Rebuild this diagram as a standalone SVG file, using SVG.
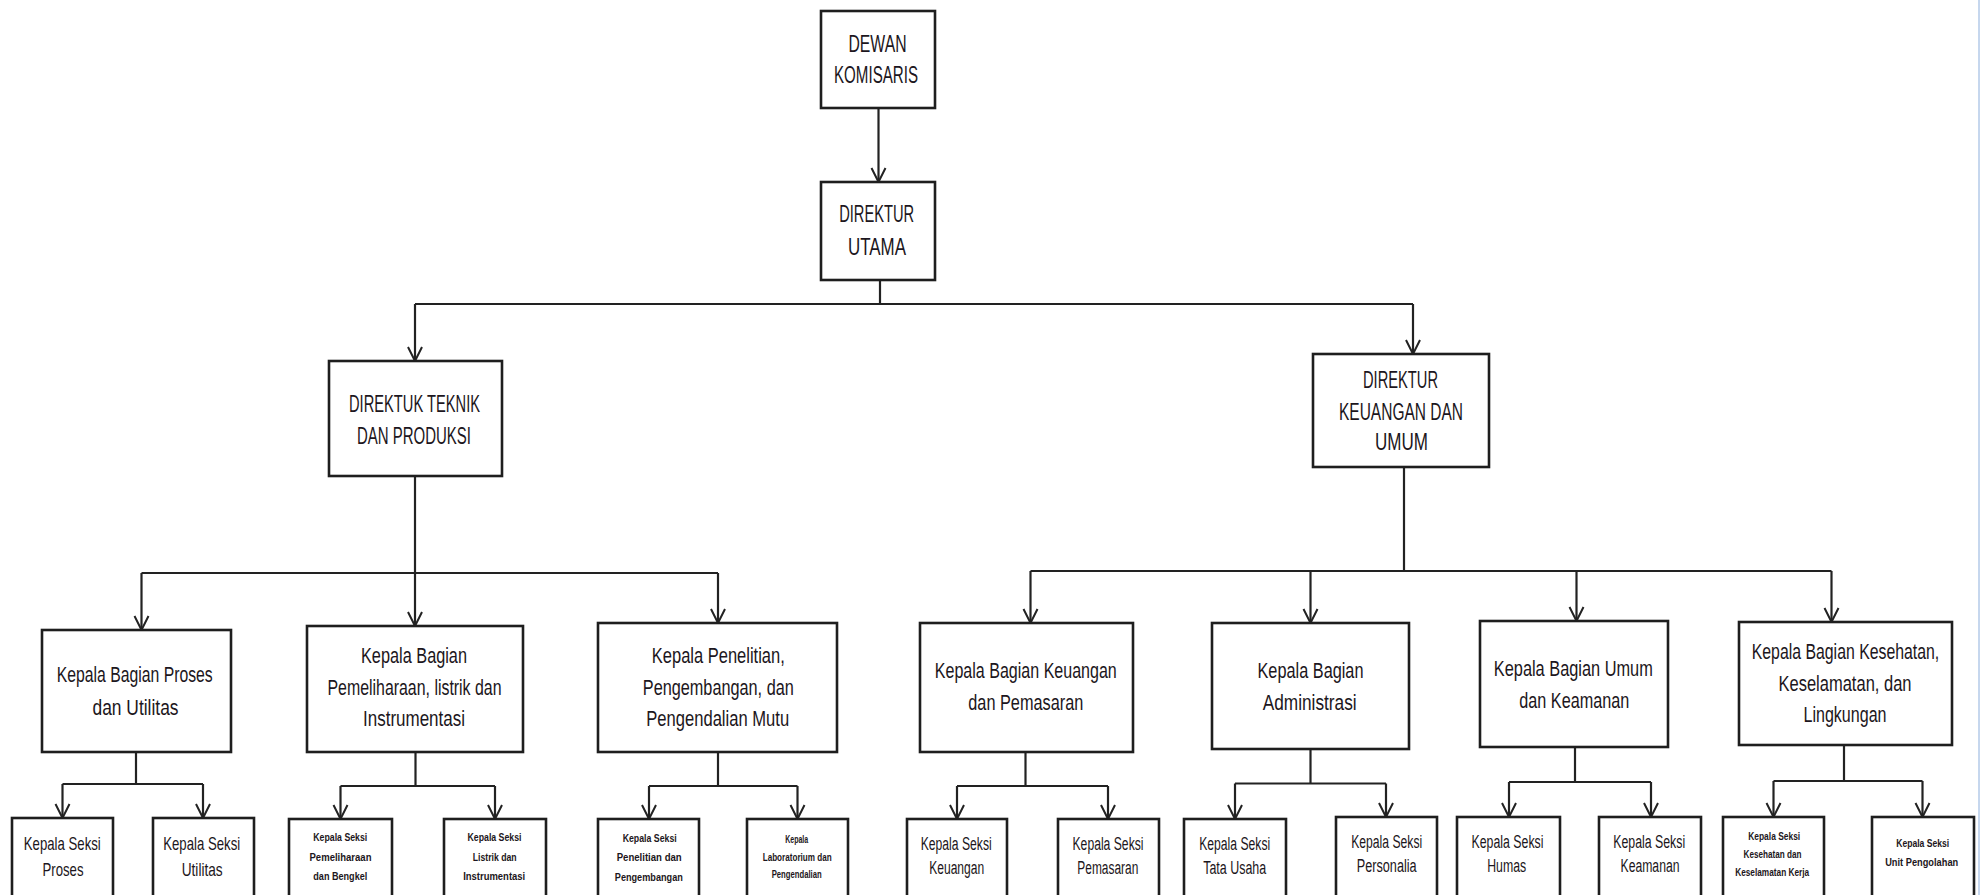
<svg xmlns="http://www.w3.org/2000/svg" width="1988" height="895" viewBox="0 0 1988 895">
<style>
.box{fill:#fff;stroke:#1e1e1e;stroke-width:2.6}
.ln{fill:none;stroke:#222;stroke-width:2.2}
.arr{marker-end:url(#ah)}
text{font-family:"Liberation Sans",Arial,sans-serif;fill:#1c1620;text-anchor:middle}
.f1{font-size:23px}
.f2{font-size:22px}
.f3{font-size:19px}
.f4{font-size:18px}
.f5{font-size:10px;font-weight:bold}
</style>
<defs>
<marker id="ah" markerUnits="userSpaceOnUse" markerWidth="18" markerHeight="18" viewBox="0 0 18 18" refX="16" refY="9" orient="auto">
<path d="M2,2 L16,9 L2,16" fill="none" stroke="#222" stroke-width="2"/>
</marker>
</defs>
<rect width="1988" height="895" fill="#fff"/>
<line x1="1979" y1="0" x2="1979" y2="895" stroke="#c6d7ee" stroke-width="2"/>

<g id="connectors">
<line class="ln arr" x1="878.5" y1="108" x2="878.5" y2="182"/>
<polyline class="ln" points="880,280 880,304"/>
<line class="ln" x1="415" y1="304" x2="1413" y2="304"/>
<line class="ln arr" x1="415" y1="304" x2="415" y2="361"/>
<line class="ln arr" x1="1413" y1="304" x2="1413" y2="354"/>

<line class="ln" x1="415" y1="476" x2="415" y2="573"/>
<line class="ln" x1="141.5" y1="573" x2="718" y2="573"/>
<line class="ln arr" x1="141.5" y1="573" x2="141.5" y2="630"/>
<line class="ln arr" x1="415" y1="573" x2="415" y2="626"/>
<line class="ln arr" x1="718" y1="573" x2="718" y2="623"/>

<line class="ln" x1="1404" y1="467" x2="1404" y2="571"/>
<line class="ln" x1="1030.5" y1="571" x2="1831.5" y2="571"/>
<line class="ln arr" x1="1030.5" y1="571" x2="1030.5" y2="623"/>
<line class="ln arr" x1="1310.5" y1="571" x2="1310.5" y2="623"/>
<line class="ln arr" x1="1576.5" y1="571" x2="1576.5" y2="621"/>
<line class="ln arr" x1="1831.5" y1="571" x2="1831.5" y2="622"/>

<line class="ln" x1="136" y1="752" x2="136" y2="784"/>
<line class="ln" x1="62.5" y1="784" x2="203" y2="784"/>
<line class="ln arr" x1="62.5" y1="784" x2="62.5" y2="818"/>
<line class="ln arr" x1="203" y1="784" x2="203" y2="818"/>

<line class="ln" x1="415.5" y1="752" x2="415.5" y2="786"/>
<line class="ln" x1="340.5" y1="786" x2="495" y2="786"/>
<line class="ln arr" x1="340.5" y1="786" x2="340.5" y2="819"/>
<line class="ln arr" x1="495" y1="786" x2="495" y2="819"/>

<line class="ln" x1="718" y1="752" x2="718" y2="786"/>
<line class="ln" x1="649" y1="786" x2="797.5" y2="786"/>
<line class="ln arr" x1="649" y1="786" x2="649" y2="819"/>
<line class="ln arr" x1="797.5" y1="786" x2="797.5" y2="819"/>

<line class="ln" x1="1025.5" y1="752" x2="1025.5" y2="786"/>
<line class="ln" x1="957" y1="786" x2="1108" y2="786"/>
<line class="ln arr" x1="957" y1="786" x2="957" y2="819"/>
<line class="ln arr" x1="1108" y1="786" x2="1108" y2="819"/>

<line class="ln" x1="1310.5" y1="749" x2="1310.5" y2="783.5"/>
<line class="ln" x1="1235" y1="783.5" x2="1386" y2="783.5"/>
<line class="ln arr" x1="1235" y1="783.5" x2="1235" y2="819"/>
<line class="ln arr" x1="1386" y1="783.5" x2="1386" y2="817"/>

<line class="ln" x1="1575" y1="747" x2="1575" y2="782"/>
<line class="ln" x1="1509" y1="782" x2="1651" y2="782"/>
<line class="ln arr" x1="1509" y1="782" x2="1509" y2="817"/>
<line class="ln arr" x1="1651" y1="782" x2="1651" y2="817"/>

<line class="ln" x1="1844" y1="745" x2="1844" y2="781"/>
<line class="ln" x1="1773.5" y1="781" x2="1922.5" y2="781"/>
<line class="ln arr" x1="1773.5" y1="781" x2="1773.5" y2="817"/>
<line class="ln arr" x1="1922.5" y1="781" x2="1922.5" y2="817"/>
</g>

<g id="dewan-komisaris">
<rect class="box" x="821" y="11" width="114" height="97"/>
<text class="f1" x="877.5" y="52" textLength="58" lengthAdjust="spacingAndGlyphs">DEWAN</text>
<text class="f1" x="876" y="83" textLength="84" lengthAdjust="spacingAndGlyphs">KOMISARIS</text>
</g>
<g id="direktur-utama">
<rect class="box" x="821" y="182" width="114" height="98"/>
<text class="f1" x="876.7" y="222" textLength="75" lengthAdjust="spacingAndGlyphs">DIREKTUR</text>
<text class="f1" x="877" y="255" textLength="58" lengthAdjust="spacingAndGlyphs">UTAMA</text>
</g>
<g id="direktur-teknik">
<rect class="box" x="329" y="361" width="173" height="115"/>
<text class="f1" x="414.5" y="412" textLength="131" lengthAdjust="spacingAndGlyphs">DIREKTUK TEKNIK</text>
<text class="f1" x="414" y="444" textLength="114" lengthAdjust="spacingAndGlyphs">DAN PRODUKSI</text>
</g>
<g id="direktur-keuangan">
<rect class="box" x="1313" y="354" width="176" height="113"/>
<text class="f1" x="1400.5" y="388" textLength="75" lengthAdjust="spacingAndGlyphs">DIREKTUR</text>
<text class="f1" x="1401" y="420" textLength="124" lengthAdjust="spacingAndGlyphs">KEUANGAN DAN</text>
<text class="f1" x="1401.5" y="450" textLength="53" lengthAdjust="spacingAndGlyphs">UMUM</text>
</g>

<g id="kb-proses">
<rect class="box" x="42" y="630" width="189" height="122"/>
<text class="f2" x="134.7" y="682" textLength="156" lengthAdjust="spacingAndGlyphs">Kepala Bagian Proses</text>
<text class="f2" x="135.5" y="715" textLength="86" lengthAdjust="spacingAndGlyphs">dan Utilitas</text>
</g>
<g id="kb-pemeliharaan">
<rect class="box" x="307" y="626" width="216" height="126"/>
<text class="f2" x="414" y="663" textLength="106" lengthAdjust="spacingAndGlyphs">Kepala Bagian</text>
<text class="f2" x="414.5" y="695" textLength="174" lengthAdjust="spacingAndGlyphs">Pemeliharaan, listrik dan</text>
<text class="f2" x="414" y="726" textLength="102" lengthAdjust="spacingAndGlyphs">Instrumentasi</text>
</g>
<g id="kb-penelitian">
<rect class="box" x="598" y="623" width="239" height="129"/>
<text class="f2" x="718.3" y="663" textLength="133" lengthAdjust="spacingAndGlyphs">Kepala Penelitian,</text>
<text class="f2" x="718.3" y="695" textLength="151" lengthAdjust="spacingAndGlyphs">Pengembangan, dan</text>
<text class="f2" x="717.7" y="726" textLength="143" lengthAdjust="spacingAndGlyphs">Pengendalian Mutu</text>
</g>
<g id="kb-keuangan">
<rect class="box" x="920" y="623" width="213" height="129"/>
<text class="f2" x="1025.8" y="678" textLength="182" lengthAdjust="spacingAndGlyphs">Kepala Bagian Keuangan</text>
<text class="f2" x="1025.8" y="710" textLength="115" lengthAdjust="spacingAndGlyphs">dan Pemasaran</text>
</g>
<g id="kb-administrasi">
<rect class="box" x="1212" y="623" width="197" height="126"/>
<text class="f2" x="1310.5" y="678" textLength="106" lengthAdjust="spacingAndGlyphs">Kepala Bagian</text>
<text class="f2" x="1309.7" y="710" textLength="94" lengthAdjust="spacingAndGlyphs">Administrasi</text>
</g>
<g id="kb-umum">
<rect class="box" x="1480" y="621" width="188" height="126"/>
<text class="f2" x="1573.3" y="676" textLength="159" lengthAdjust="spacingAndGlyphs">Kepala Bagian Umum</text>
<text class="f2" x="1574.3" y="708" textLength="110" lengthAdjust="spacingAndGlyphs">dan Keamanan</text>
</g>
<g id="kb-kesehatan">
<rect class="box" x="1739" y="622" width="213" height="123"/>
<text class="f2" transform="translate(1845.5 659) scale(0.72 1)" x="0" y="0">Kepala Bagian Kesehatan,</text>
<text class="f2" x="1845" y="691" textLength="133" lengthAdjust="spacingAndGlyphs">Keselamatan, dan</text>
<text class="f2" x="1845" y="722" textLength="83" lengthAdjust="spacingAndGlyphs">Lingkungan</text>
</g>

<g id="ks-proses">
<rect class="box" x="12" y="818" width="101" height="90"/>
<text class="f3" x="62.3" y="850" textLength="77" lengthAdjust="spacingAndGlyphs">Kepala Seksi</text>
<text class="f3" x="63" y="876" textLength="41" lengthAdjust="spacingAndGlyphs">Proses</text>
</g>
<g id="ks-utilitas">
<rect class="box" x="153" y="818" width="101" height="90"/>
<text class="f3" x="201.7" y="850" textLength="77" lengthAdjust="spacingAndGlyphs">Kepala Seksi</text>
<text class="f3" x="202.2" y="876" textLength="41" lengthAdjust="spacingAndGlyphs">Utilitas</text>
</g>
<g id="ks-pemeliharaan">
<rect class="box" x="289" y="819" width="103" height="90"/>
<text class="f5" x="340.3" y="841" textLength="54" lengthAdjust="spacingAndGlyphs">Kepala Seksi</text>
<text class="f5" x="340.5" y="861" textLength="62" lengthAdjust="spacingAndGlyphs">Pemeliharaan</text>
<text class="f5" x="340.3" y="880" textLength="54" lengthAdjust="spacingAndGlyphs">dan Bengkel</text>
</g>
<g id="ks-listrik">
<rect class="box" x="444" y="819" width="102" height="90"/>
<text class="f5" x="494.5" y="841" textLength="54" lengthAdjust="spacingAndGlyphs">Kepala Seksi</text>
<text class="f5" x="494.7" y="861" textLength="44" lengthAdjust="spacingAndGlyphs">Listrik dan</text>
<text class="f5" x="494.2" y="880" textLength="62" lengthAdjust="spacingAndGlyphs">Instrumentasi</text>
</g>
<g id="ks-penelitian">
<rect class="box" x="598" y="819" width="101" height="90"/>
<text class="f5" x="649.7" y="842" textLength="54" lengthAdjust="spacingAndGlyphs">Kepala Seksi</text>
<text class="f5" x="649.2" y="861" textLength="65" lengthAdjust="spacingAndGlyphs">Penelitian dan</text>
<text class="f5" x="648.8" y="881" textLength="68" lengthAdjust="spacingAndGlyphs">Pengembangan</text>
</g>
<g id="ks-laboratorium">
<rect class="box" x="747" y="819" width="101" height="90"/>
<text class="f5" x="796.7" y="843" textLength="23" lengthAdjust="spacingAndGlyphs">Kepala</text>
<text class="f5" x="797.2" y="861" textLength="69" lengthAdjust="spacingAndGlyphs">Laboratorium dan</text>
<text class="f5" x="796.7" y="878" textLength="50" lengthAdjust="spacingAndGlyphs">Pengendalian</text>
</g>
<g id="ks-keuangan">
<rect class="box" x="907" y="819" width="100" height="90"/>
<text class="f4" x="956.2" y="850" textLength="71" lengthAdjust="spacingAndGlyphs">Kepala Seksi</text>
<text class="f4" x="956.7" y="874" textLength="55" lengthAdjust="spacingAndGlyphs">Keuangan</text>
</g>
<g id="ks-pemasaran">
<rect class="box" x="1058" y="819" width="101" height="90"/>
<text class="f4" x="1108" y="850" textLength="71" lengthAdjust="spacingAndGlyphs">Kepala Seksi</text>
<text class="f4" x="1107.8" y="874" textLength="61" lengthAdjust="spacingAndGlyphs">Pemasaran</text>
</g>
<g id="ks-tata-usaha">
<rect class="box" x="1184" y="819" width="102" height="90"/>
<text class="f4" x="1234.7" y="850" textLength="71" lengthAdjust="spacingAndGlyphs">Kepala Seksi</text>
<text class="f4" x="1234.7" y="874" textLength="63" lengthAdjust="spacingAndGlyphs">Tata Usaha</text>
</g>
<g id="ks-personalia">
<rect class="box" x="1336" y="817" width="101" height="90"/>
<text class="f4" x="1386.7" y="848" textLength="71" lengthAdjust="spacingAndGlyphs">Kepala Seksi</text>
<text class="f4" x="1386.7" y="872" textLength="60" lengthAdjust="spacingAndGlyphs">Personalia</text>
</g>
<g id="ks-humas">
<rect class="box" x="1457" y="817" width="103" height="90"/>
<text class="f4" x="1507.5" y="848" textLength="72" lengthAdjust="spacingAndGlyphs">Kepala Seksi</text>
<text class="f4" x="1506.7" y="872" textLength="39" lengthAdjust="spacingAndGlyphs">Humas</text>
</g>
<g id="ks-keamanan">
<rect class="box" x="1599" y="817" width="102" height="90"/>
<text class="f4" x="1649.2" y="848" textLength="72" lengthAdjust="spacingAndGlyphs">Kepala Seksi</text>
<text class="f4" x="1650" y="872" textLength="59" lengthAdjust="spacingAndGlyphs">Keamanan</text>
</g>
<g id="ks-k3">
<rect class="box" x="1723" y="817" width="101" height="90"/>
<text class="f5" x="1774.2" y="840" textLength="52" lengthAdjust="spacingAndGlyphs">Kepala Seksi</text>
<text class="f5" x="1772.5" y="858" textLength="58" lengthAdjust="spacingAndGlyphs">Kesehatan dan</text>
<text class="f5" x="1772.2" y="876" textLength="74" lengthAdjust="spacingAndGlyphs">Keselamatan Kerja</text>
</g>
<g id="ks-unit-pengolahan">
<rect class="box" x="1872" y="817" width="102" height="90"/>
<text class="f5" x="1922.7" y="847" textLength="53" lengthAdjust="spacingAndGlyphs">Kepala Seksi</text>
<text class="f5" x="1921.7" y="866" textLength="73" lengthAdjust="spacingAndGlyphs">Unit Pengolahan</text>
</g>
</svg>
